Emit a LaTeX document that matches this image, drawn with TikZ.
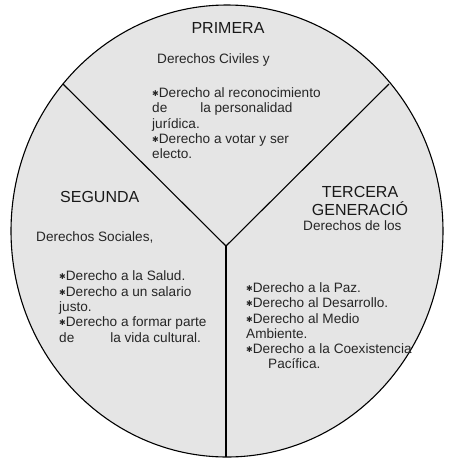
\documentclass[tikz,border=0pt]{standalone}
\usepackage{fontspec}
\setmainfont{Liberation Sans}
\newfontfamily\dejavu{DejaVu Sans}
\newcommand{\mybul}{{\fontsize{8}{8}\selectfont\dejavu\raisebox{0.3pt}{✱}}}
\begin{document}
\begin{tikzpicture}[x=1pt,y=-1pt,
  body/.style={anchor=base west,inner sep=0pt,font=\fontsize{13.6}{15}\selectfont,text=black!85},
  title/.style={anchor=base,inner sep=0pt,font=\fontsize{16}{18}\selectfont,text=black!90},
  divider/.style={draw=black,line width=1.1pt}]
\useasboundingbox (0,0) rectangle (453,467);
\fill[fill=black!10] (227,231) ellipse [x radius=216,y radius=226];
\draw[line width=1.1pt] (227,231) ellipse [x radius=216,y radius=226];
\coordinate (c) at (226,246);
\coordinate (l) at (63,84);
\coordinate (r) at (389,84);
\coordinate (b) at (226,457);
\draw[divider] (l) -- (c) -- (r);
\draw[divider] (c) -- (b);
% PRIMERA
\node[title] (t1) at (228,33) {PRIMERA};
\node[body] (p0) at (157,63) {Derechos Civiles y};
\node[body] (p1) at (152,97) {\mybul Derecho al reconocimiento};
\node[body] (p2) at (152,112) {de\hspace{33pt}la personalidad};
\node[body] (p3) at (152,128) {jurídica.};
\node[body] (p4) at (152,143) {\mybul Derecho a votar y ser};
\node[body] (p5) at (152,158) {electo.};
% SEGUNDA
\node[title,anchor=base west] (t2) at (60,202) {SEGUNDA};
\node[body] (s0) at (36,241) {Derechos Sociales,};
\node[body] (s1) at (59,280) {\mybul Derecho a la Salud.};
\node[body] (s2) at (59,296) {\mybul Derecho a un salario};
\node[body] (s3) at (59,311) {justo.};
\node[body] (s4) at (59,326) {\mybul Derecho a formar parte};
\node[body] (s5) at (59,342) {de\hspace{36pt}la vida cultural.};
% TERCERA
\node[title] (t3a) at (360,197) {TERCERA};
\node[title] (t3b) at (360,215) {GENERACIÓ};
\node[body] (g0) at (303,230) {Derechos de los};
\node[body] (g1) at (246,292) {\mybul Derecho a la Paz.};
\node[body] (g2) at (246,307) {\mybul Derecho al Desarrollo.};
\node[body] (g3) at (246,323) {\mybul Derecho al Medio};
\node[body] (g4) at (246,338) {Ambiente.};
\node[body] (g5) at (246,353) {\mybul Derecho a la Coexistencia};
\node[body] (g6) at (268,368) {Pacífica.};
\end{tikzpicture}
\end{document}
